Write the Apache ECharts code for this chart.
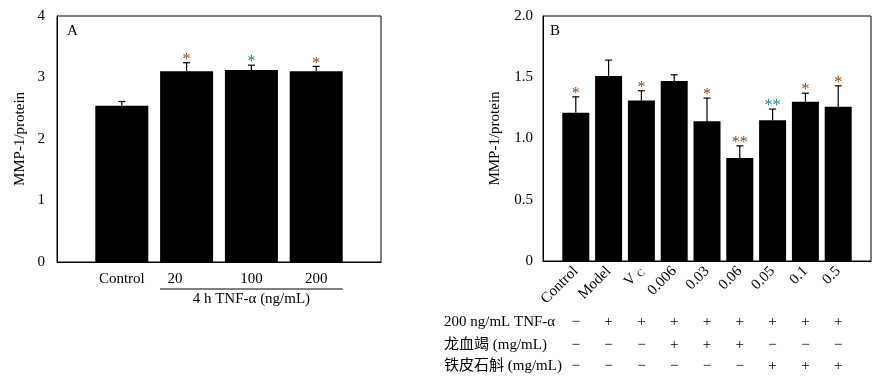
<!DOCTYPE html>
<html><head><meta charset="utf-8">
<script src="https://cdn.jsdelivr.net/npm/echarts@6/dist/echarts.min.js"></script>
<style>html,body{margin:0;padding:0;background:#fff}#c{width:880px;height:378px}</style>
</head><body><div id="c"></div>
<script>
// ---------- Data ----------
const catA = ['', 'Control', '20', '100', '200', ''];
const valA = [null, 2.54, 3.10, 3.12, 3.10, null];
const errA = [null, 0.07, 0.14, 0.08, 0.08, null];
const sigA = ['', '', '*', '*', '*', ''];
const sigTealA = [false, false, false, true, false, false];
const ticksA = [0, 1, 2, 3, 4];

const catB = ['', 'Control', 'Model', 'Vc', '0.006', '0.03', '0.06', '0.05', '0.1', '0.5', ''];
const valB = [null, 1.21, 1.51, 1.31, 1.47, 1.14, 0.84, 1.15, 1.30, 1.26, null];
const errB = [null, 0.13, 0.13, 0.08, 0.05, 0.19, 0.10, 0.09, 0.07, 0.17, null];
const sigB = ['', '*', '', '*', '', '*', '**', '**', '*', '*', ''];
const sigTealB = [false, false, false, false, false, false, false, true, false, false, false];
const ticksB = ['0', '0.5', '1.0', '1.5', '2.0'];

const rowLabels = ['200 ng/mL TNF-α', '龙血竭 (mg/mL)', '铁皮石斛 (mg/mL)'];
const rowTNF   = ['', '−', '+', '+', '+', '+', '+', '+', '+', '+', ''];
const rowLXJ   = ['', '−', '−', '−', '+', '+', '+', '−', '−', '−', ''];
const rowTPSH  = ['', '−', '−', '−', '−', '−', '−', '+', '+', '+', ''];
const groupLabelA = '4 h TNF-α (ng/mL)';

// ---------- Styles ----------
const FONT = '"Liberation Serif", "Times New Roman", "Noto Sans CJK SC", serif';
const BROWN = '#86481a', TEAL = '#1a7d8c';
const chart = echarts.init(document.getElementById('c'), null, {renderer: 'canvas'});

function errSeries(xi, yi, vals, errs, sigs, teals) {
  const data = [];
  vals.forEach((v, i) => { if (v != null) data.push([i, v, v + errs[i]]); });
  return {
    type: 'custom', xAxisIndex: xi, yAxisIndex: yi, z: 5, silent: true,
    data: data,
    renderItem: function (params, api) {
      const i = api.value(0);
      const p0 = api.coord([i, api.value(1)]);
      const p1 = api.coord([i, api.value(2)]);
      const cw = 3.5;
      const children = [
        {type: 'line', shape: {x1: p0[0], y1: p0[1], x2: p1[0], y2: p1[1]}, style: {stroke: '#000', lineWidth: 1.2}},
        {type: 'line', shape: {x1: p1[0] - cw, y1: p1[1], x2: p1[0] + cw, y2: p1[1]}, style: {stroke: '#000', lineWidth: 1.2}}
      ];
      const s = sigs[i];
      if (s) {
        children.push({type: 'text', style: {text: s, x: p1[0], y: p1[1] - 3, align: 'center', verticalAlign: 'middle',
          font: '16px "Liberation Serif"', fill: teals[i] ? TEAL : BROWN}});
      }
      return {type: 'group', children: children};
    }
  };
}

const baseLabel = {color: '#000', fontFamily: FONT, fontSize: 15};

const option = {
  animation: false,
  grid: [
    {left: 57, top: 16, width: 324, height: 246, show: true, borderColor: '#000', borderWidth: 1, backgroundColor: 'transparent'},
    {left: 543, top: 16, width: 328, height: 245, show: true, borderColor: '#000', borderWidth: 1, backgroundColor: 'transparent'}
  ],
  xAxis: [
    {gridIndex: 0, type: 'category', data: catA, boundaryGap: false,
     axisLine: {lineStyle: {color: '#000'}}, axisTick: {show: false},
     axisLabel: Object.assign({}, baseLabel, {interval: 0, margin: 10,
       formatter: v => v === '20' ? '{s|20}' : v,
       rich: {s: {fontFamily: FONT, fontSize: 15, color: '#000', padding: [0, 23, 0, 0]}}})},
    {gridIndex: 1, type: 'category', data: catB, boundaryGap: false,
     axisLine: {lineStyle: {color: '#000'}}, axisTick: {show: false},
     axisLabel: Object.assign({}, baseLabel, {interval: 0, margin: 8, rotate: 45,
       formatter: v => v === 'Vc' ? '{v|V }{c|C}' : v,
       rich: {v: {fontFamily: FONT, fontSize: 15, color: '#000'},
              c: {fontFamily: FONT, fontSize: 10, color: '#000', padding: [6, 0, 0, 0]}}})},
    {gridIndex: 1, type: 'category', data: rowTNF, boundaryGap: false, position: 'bottom', offset: 46,
     axisLine: {show: false}, axisTick: {show: false}, axisLabel: Object.assign({}, baseLabel, {interval: 0, margin: 8})},
    {gridIndex: 1, type: 'category', data: rowLXJ, boundaryGap: false, position: 'bottom', offset: 69,
     axisLine: {show: false}, axisTick: {show: false}, axisLabel: Object.assign({}, baseLabel, {interval: 0, margin: 8})},
    {gridIndex: 1, type: 'category', data: rowTPSH, boundaryGap: false, position: 'bottom', offset: 90,
     axisLine: {show: false}, axisTick: {show: false}, axisLabel: Object.assign({}, baseLabel, {interval: 0, margin: 8})}
  ],
  yAxis: [
    {gridIndex: 0, type: 'value', min: ticksA[0], max: ticksA[ticksA.length - 1], interval: 1,
     axisLine: {show: true, lineStyle: {color: '#000'}}, axisTick: {show: false}, splitLine: {show: false},
     axisLabel: Object.assign({}, baseLabel, {margin: 12}),
     name: 'MMP-1/protein', nameLocation: 'middle', nameGap: 29,
     nameTextStyle: {color: '#000', fontFamily: FONT, fontSize: 15}},
    {gridIndex: 1, type: 'value', min: 0, max: 2, interval: 0.5,
     axisLine: {show: true, lineStyle: {color: '#000'}}, axisTick: {show: false}, splitLine: {show: false},
     axisLabel: Object.assign({}, baseLabel, {margin: 10, formatter: v => ticksB[Math.round(v / 0.5)]}),
     name: 'MMP-1/protein', nameLocation: 'middle', nameGap: 40,
     nameTextStyle: {color: '#000', fontFamily: FONT, fontSize: 15}}
  ],
  series: [
    {type: 'bar', xAxisIndex: 0, yAxisIndex: 0, data: valA, barWidth: 53, itemStyle: {color: '#000'}, silent: true},
    errSeries(0, 0, valA, errA, sigA, sigTealA),
    {type: 'bar', xAxisIndex: 1, yAxisIndex: 1, data: valB, barWidth: 27, itemStyle: {color: '#000'}, silent: true},
    errSeries(1, 1, valB, errB, sigB, sigTealB)
  ]
};
chart.setOption(option);

// annotations placed through the axes' own scales
const xL = chart.convertToPixel({xAxisIndex: 0}, catA[2]) - 26.5;
const xR = chart.convertToPixel({xAxisIndex: 0}, catA[4]) + 26.5;
const xMid = chart.convertToPixel({xAxisIndex: 0}, catA[3]);
const graphics = [
  {type: 'text', left: 67, top: 24, style: {text: 'A', font: '15px "Liberation Serif"', fill: '#000'}},
  {type: 'text', left: 550, top: 24, style: {text: 'B', font: '15px "Liberation Serif"', fill: '#000'}},
  {type: 'line', shape: {x1: xL, y1: 289, x2: xR, y2: 289}, style: {stroke: '#000', lineWidth: 1}},
  {type: 'text', x: xMid, y: 299, style: {text: groupLabelA, font: '15px "Liberation Serif"', fill: '#000', align: 'center', verticalAlign: 'middle'}}
];
const rowY = [322, 345, 366];
rowLabels.forEach((t, k) => graphics.push({type: 'text', x: 444, y: rowY[k],
  style: {text: t, font: '15px "Liberation Serif", "Noto Sans CJK SC"', fill: '#000', align: 'left', verticalAlign: 'middle'}}));
chart.setOption({graphic: graphics});
</script></body></html>
